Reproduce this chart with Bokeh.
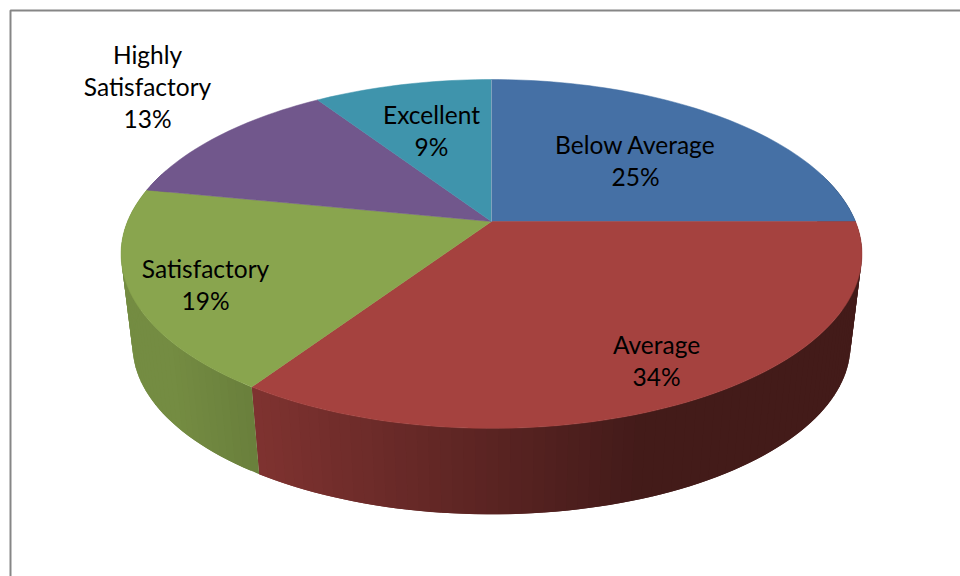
import math
from bokeh.plotting import figure
from bokeh.models import Range1d
from bokeh.core.properties import value
from bokeh.embed import file_html
from bokeh.resources import INLINE

categories = ["Below Average", "Average", "Satisfactory", "Highly Satisfactory", "Excellent"]
shares = [25.0, 34.4, 18.7, 12.6, 9.3]
percent_labels = ["25%", "34%", "19%", "13%", "9%"]
top_colors = ["#4570a5", "#a5423f", "#89a54e", "#71578c", "#3f94ac"]

# label lines: (text, centre x, centre y)
label_lines = [
    ("Below Average", 635, 144), ("25%", 635, 176),
    ("Average", 656, 344), ("34%", 656, 376),
    ("Satisfactory", 205, 268), ("19%", 205, 300),
    ("Highly", 147, 54), ("Satisfactory", 147, 86), ("13%", 147, 118),
    ("Excellent", 431, 114), ("9%", 431, 146),
]

# projection of the disc
CX, CY, R, A, B = 491.0, 221.0, 364.0, 168.4, 0.186
BOTTOM_SCALE, BOTTOM_CY = 0.969, 313.4


def top_pt(angle):
    u, v = math.sin(angle), -math.cos(angle)
    d = 1 - B * v
    return CX + R * u / d, CY + A * v / d


def bottom_pt(angle):
    x, y = top_pt(angle)
    return CX + (x - CX) * BOTTOM_SCALE, BOTTOM_CY + (y - CY) * BOTTOM_SCALE


def shade(hex_color, x):
    f = 0.77 - (x - 255) * 0.36 / 385
    f = max(0.41, min(0.85, f))
    rgb = [int(hex_color[i:i + 2], 16) for i in (1, 3, 5)]
    return "#%02x%02x%02x" % tuple(int(c * f) for c in rgb)


p = figure(width=960, height=576, output_backend="svg", toolbar_location=None,
           x_range=Range1d(0, 960), y_range=Range1d(576, 0), min_border=0,
           outline_line_color=None, background_fill_color="white")
p.axis.visible = False
p.grid.visible = False

# chart frame
p.line([10, 10, 960], [576, 10, 10], line_color="#868686", line_width=2)

total = sum(shares)
edges = [0.0]
for s in shares:
    edges.append(edges[-1] + s / total * 2 * math.pi)

STEP = math.radians(1.5)
for i, color in enumerate(top_colors):
    a0, a1 = edges[i], edges[i + 1]
    n = max(2, int((a1 - a0) / STEP))
    angles = [a0 + (a1 - a0) * k / n for k in range(n + 1)]
    for k in range(n):
        a, b = angles[k], angles[k + 1]
        if -math.cos((a + b) / 2) < -0.3:
            continue
        # each band runs on under the next one, so no seam shows between them
        far = angles[min(k + 2, n)]
        t0, t1, b1, b0 = top_pt(a), top_pt(far), bottom_pt(far), bottom_pt(a)
        c = shade(color, (top_pt(a)[0] + top_pt(b)[0]) / 2)
        p.patch([t0[0], t1[0], b1[0], b0[0]], [t0[1], t1[1], b1[1], b0[1]],
                fill_color=c, line_color=None)

for i, color in enumerate(top_colors):
    a0, a1 = edges[i], edges[i + 1]
    n = max(2, int((a1 - a0) / STEP))
    pts = [top_pt(a0 + (a1 - a0) * k / n) for k in range(n + 1)]
    xs = [CX] + [q[0] for q in pts]
    ys = [CY] + [q[1] for q in pts]
    p.patch(xs, ys, fill_color=color, line_color=color, line_width=0.5)

# pale seam between the last and the first slice
seam_end = top_pt(edges[0])
p.line([CX, seam_end[0]], [CY, seam_end[1]], line_color="#7fa3bd", line_width=1)

p.text([t[1] for t in label_lines], [t[2] for t in label_lines],
       text=[t[0] for t in label_lines], text_font=value("Lato"),
       text_font_size="24.5px", text_color="#000000",
       text_align="center", text_baseline="middle")

open("out.html", "w").write(file_html(p, INLINE))
